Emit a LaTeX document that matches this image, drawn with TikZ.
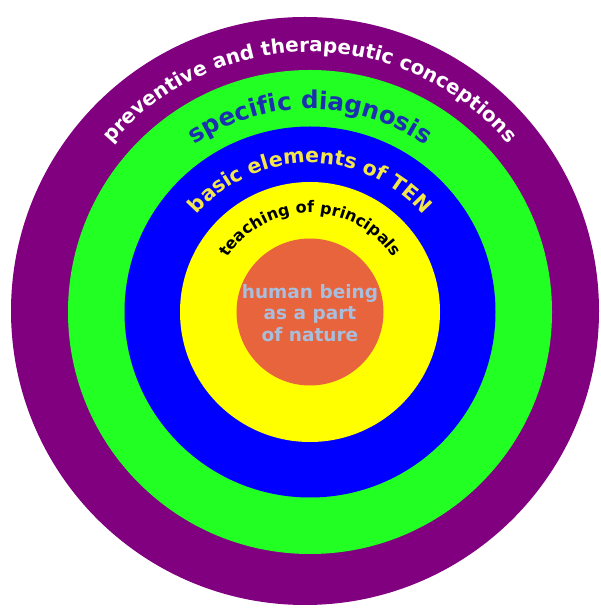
\documentclass[tikz,border=0pt]{standalone}
\usepackage{fontspec}
\newfontfamily\dejavu{DejaVu Sans}
\usetikzlibrary{decorations.text}
\definecolor{ringpurple}{HTML}{800080}
\definecolor{ringgreen}{HTML}{22FF22}
\definecolor{ringblue}{HTML}{0000FF}
\definecolor{ringyellow}{HTML}{FFFF00}
\definecolor{coreorange}{HTML}{E8643C}
\definecolor{coretext}{HTML}{A8BEDC}
\definecolor{diagtext}{HTML}{1A30B0}
\definecolor{basictext}{HTML}{F2E64A}
\tikzset{
  ringlabel/.style={decorate, decoration={text along path, text align=center, text color=#1}},
  corelabel/.style={align=center, text=coretext, font=\dejavu\bfseries\fontsize{18.5}{21.5}\selectfont}
}
\begin{document}
\begin{tikzpicture}[x=1pt,y=1pt]
\useasboundingbox (0,0) rectangle (600,608);
\coordinate (c) at (310,296);
\coordinate (co) at (305,297);
\fill[ringpurple] (co) circle (294);
\fill[ringgreen] (c) circle (242);
\fill[ringblue] (c) circle (185.5);
\fill[ringyellow] (c) circle (130);
\fill[coreorange] (c) circle (73.5);
\path[ringlabel=white, decoration={text={|\dejavu\bfseries\fontsize{20}{20}\selectfont|preventive and therapeutic conceptions}}]
  (c) ++(170:260) arc[start angle=170, end angle=10, radius=260];
\path[ringlabel=diagtext, decoration={text={|\dejavu\bfseries\fontsize{24.5}{24.5}\selectfont|specific diagnosis}}]
  (c) ++(170:203) arc[start angle=170, end angle=10, radius=203];
\path[ringlabel=basictext, decoration={text={|\dejavu\bfseries\fontsize{20.5}{20.5}\selectfont|basic elements of TEN}}]
  (c) ++(170:149) arc[start angle=170, end angle=10, radius=149];
\path[ringlabel=black, decoration={text={|\dejavu\bfseries\fontsize{16}{16}\selectfont|teaching of principals}}]
  (c) ++(175:99) arc[start angle=175, end angle=5, radius=99];
\node[corelabel] (core) at (310,295) {human being\\as a part\\of nature};
\end{tikzpicture}
\end{document}
